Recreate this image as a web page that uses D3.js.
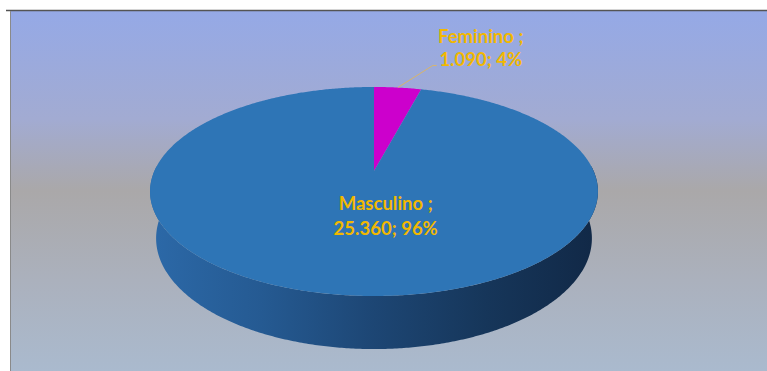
<!DOCTYPE html>
<html>
<head>
<meta charset="utf-8">
<script src="https://cdn.jsdelivr.net/npm/d3@7"></script>
<style>
  html, body { margin: 0; padding: 0; background: #ffffff; }
  svg { display: block; }
</style>
</head>
<body>
<svg id="chart" width="767" height="371"></svg>
<script>
// Distribution by sex
const categories = ["Feminino", "Masculino"];
const values = [1090, 25360];
const sliceColors = ["#cc00cc", "#2e75b6"];

const W = 767, H = 371;
const svg = d3.select("#chart");
const defs = svg.append("defs");

// Background gradient of the plot area
const bg = defs.append("linearGradient")
  .attr("id", "bgGrad").attr("x1", 0).attr("y1", 0).attr("x2", 0).attr("y2", 1);
[[0, "#95a9e6"], [0.3, "#a2abd2"], [0.5, "#aaa8a9"], [0.75, "#abb1bd"], [1, "#aabace"]]
  .forEach(([o, c]) => bg.append("stop").attr("offset", o).attr("stop-color", c));

svg.append("rect").attr("x", 11).attr("y", 11).attr("width", W - 11).attr("height", H - 11)
  .attr("fill", "url(#bgGrad)");
svg.append("line").attr("x1", 6).attr("x2", W).attr("y1", 10.5).attr("y2", 10.5)
  .attr("stroke", "#545454").attr("stroke-width", 1.6);
svg.append("line").attr("x1", 10.5).attr("x2", 10.5).attr("y1", 11).attr("y2", H)
  .attr("stroke", "#8a8a8a").attr("stroke-width", 1);

// Perspective disc: u across, v towards the viewer, d = depth (0 top, 1 bottom)
const cx = 374, cy = 171, A = 219.6, B = 100.5, P = 0.196, DEPTH = 47.4 / 100.5, Q = 0.0267;
const xs = d3.scaleLinear().domain([-1, 1]).range([cx - A, cx + A]);
const ys = d3.scaleLinear().domain([-1, 1]).range([cy - B, cy + B]);
function proj(theta, r, d) {
  const u = r * Math.sin(theta), v = -r * Math.cos(theta);
  const w = 1 - P * v + Q * d;
  return [xs(u / w), ys((v + DEPTH * d) / w)];
}
function arcPoints(a0, a1, d) {
  const n = Math.max(2, Math.ceil((a1 - a0) / (Math.PI / 360)));
  return d3.range(n + 1).map(i => proj(a0 + (a1 - a0) * i / n, 1, d));
}

const pie = d3.pie().sort(null).value(d => d)(values);
const line = d3.line();
const total = d3.sum(values);
const loc = d3.formatLocale({ decimal: ",", thousands: ".", grouping: [3], currency: ["", ""] });
const fmt = loc.format(",d");

// Side wall shading
const side = defs.append("linearGradient").attr("id", "sideGrad")
  .attr("gradientUnits", "userSpaceOnUse")
  .attr("x1", cx - A - 5).attr("x2", cx + A + 5).attr("y1", 0).attr("y2", 0);
[[0, "#2c69a8"], [0.25, "#255a92"], [0.5, "#1d4674"], [0.75, "#16365a"], [1, "#112846"]]
  .forEach(([o, c]) => side.append("stop").attr("offset", o).attr("stop-color", c));

// Visible front walls
pie.forEach((s, i) => {
  const a0 = Math.max(s.startAngle, Math.PI / 2 - 0.05);
  const a1 = Math.min(s.endAngle, 3 * Math.PI / 2 + 0.05);
  if (a1 <= a0) return;
  const pts = arcPoints(a0, a1, 0).concat(arcPoints(a0, a1, 1).reverse());
  svg.append("path").attr("d", line(pts) + "Z")
    .attr("fill", i === 1 ? "url(#sideGrad)" : d3.color(sliceColors[i]).darker(1.2));
});

// Top faces
pie.forEach((s, i) => {
  const pts = [proj(0, 0, 0)].concat(arcPoints(s.startAngle, s.endAngle, 0));
  svg.append("path").attr("d", line(pts) + "Z").attr("fill", sliceColors[i]);
});

const labelColor = "#f2b800";
const font = "Lato, 'Open Sans', sans-serif";
const fontSize = 18.5;

// Feminino: outside label with leader line
{
  const s = pie[0];
  const mid = (s.startAngle + s.endAngle) / 2;
  const p0 = proj(mid, 1, 0);
  svg.append("path")
    .attr("d", line([p0, [p0[0] + 35, p0[1] - 22], [p0[0] + 39, p0[1] - 22]]))
    .attr("fill", "none").attr("stroke", "#d9b56a").attr("stroke-width", 1);
  const t = svg.append("text").attr("text-anchor", "middle")
    .attr("font-family", font).attr("font-weight", 700).attr("font-size", fontSize)
    .attr("fill", labelColor);
  t.append("tspan").attr("x", p0[0] + 83).attr("y", p0[1] - 45).text(categories[0] + " ;");
  t.append("tspan").attr("x", p0[0] + 83).attr("y", p0[1] - 22)
    .text(fmt(values[0]) + "; " + Math.round(values[0] / total * 100) + "%");
}

// Masculino: label on the face
{
  const s = pie[1];
  const mid = (s.startAngle + s.endAngle) / 2;
  const p = proj(mid, 0.4, 0);
  const t = svg.append("text").attr("text-anchor", "middle")
    .attr("font-family", font).attr("font-weight", 700).attr("font-size", fontSize)
    .attr("fill", labelColor);
  t.append("tspan").attr("x", p[0] + 24).attr("y", p[1] - 4).text(categories[1] + " ;");
  t.append("tspan").attr("x", p[0] + 24).attr("y", p[1] + 21)
    .text(fmt(values[1]) + "; " + Math.round(values[1] / total * 100) + "%");
}
</script>
</body>
</html>
